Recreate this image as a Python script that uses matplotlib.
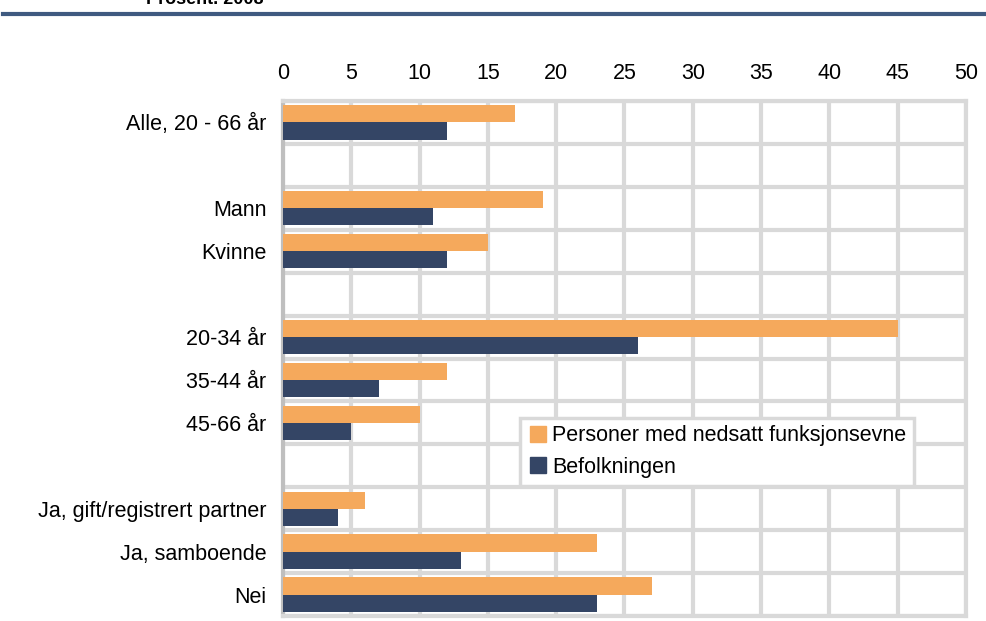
import numpy as np
import matplotlib.pyplot as plt
from matplotlib.lines import Line2D

plt.rcParams['font.family'] = ['Liberation Sans', 'DejaVu Sans']

# rows, top to bottom (empty strings are spacer rows)
categories = ['Alle, 20 - 66 år', '', 'Mann', 'Kvinne', '',
              '20-34 år', '35-44 år', '45-66 år', '',
              'Ja, gift/registrert partner', 'Ja, samboende', 'Nei']
nedsatt = [17, None, 19, 15, None, 45, 12, 10, None, 6, 23, 27]
befolkning = [12, None, 11, 12, None, 26, 7, 5, None, 4, 13, 23]
series_names = ['Personer med nedsatt funksjonsevne', 'Befolkningen']
xticks = list(range(0, 51, 5))

orange = '#f5a95c'
navy = '#344565'
grid_col = '#d9d9d9'

fig = plt.figure(figsize=(9.87, 6.21), dpi=100)
ax = fig.add_axes([0.2867, 0.008, 0.6920, 0.8294])

y = np.arange(len(categories))
h = 0.4
for i, (a, b) in enumerate(zip(nedsatt, befolkning)):
    if a is not None:
        ax.barh(y[i] - h / 2, a, height=h, color=orange, zorder=3)
    if b is not None:
        ax.barh(y[i] + h / 2, b, height=h, color=navy, zorder=3)

ax.set_xlim(0, 50)
ax.set_ylim(len(categories) - 0.5, -0.5)
ax.xaxis.tick_top()
ax.set_xticks(xticks)
ax.set_xticklabels([str(t) for t in xticks], fontsize=15.5)
ax.set_yticks(y)
ax.set_yticklabels(categories, fontsize=15.5)
ax.set_yticks(np.arange(-0.5, len(categories), 1), minor=True)
ax.tick_params(axis='both', which='both', length=0)
ax.tick_params(axis='x', pad=12)
ax.tick_params(axis='y', pad=12)

ax.grid(axis='x', which='major', color=grid_col, linewidth=3.0, zorder=0)
ax.grid(axis='y', which='minor', color=grid_col, linewidth=3.0, zorder=0)
for s in ['top', 'right', 'bottom']:
    ax.spines[s].set_color(grid_col)
    ax.spines[s].set_linewidth(3.0)
ax.spines['left'].set_color('#bfbfbf')
ax.spines['left'].set_linewidth(3.0)

handles = [Line2D([], [], marker='s', linestyle='', color=orange, markersize=11),
           Line2D([], [], marker='s', linestyle='', color=navy, markersize=11)]
leg = ax.legend(handles, series_names, loc='upper left',
                bbox_to_anchor=(0.347, 0.385), fontsize=15.5, frameon=True,
                fancybox=False, framealpha=1, edgecolor=grid_col,
                handletextpad=0.15, handlelength=1.0, borderpad=0.35,
                labelspacing=0.5, borderaxespad=0)
leg.get_frame().set_linewidth(2.5)
leg.set_zorder(5)

# title (cut off at the top in the source) and rule line
fig.text(0.148, 1.0, 'Prosent. 2008', fontsize=13, fontweight='bold',
         ha='left', va='center')
fig.add_artist(Line2D([0.003, 1.0], [0.977, 0.977], color='#3f5a80',
                      linewidth=3, transform=fig.transFigure))

fig.savefig('out.png', dpi=100)
